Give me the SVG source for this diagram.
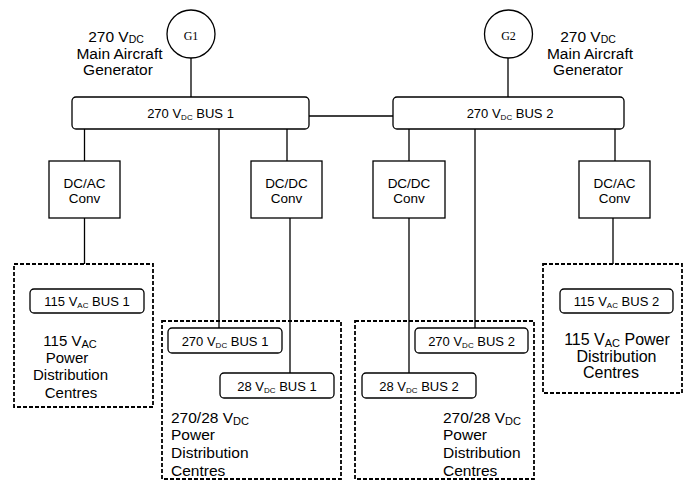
<svg xmlns="http://www.w3.org/2000/svg" width="689" height="480" viewBox="0 0 689 480">
<style>
.t{font-family:"Liberation Sans",Arial,sans-serif;fill:#000}
.g{font-family:"Liberation Serif","Times New Roman",serif;fill:#000;font-size:12px}
.l{stroke:#000;stroke-width:1.3;fill:none}
.box{fill:#fff;stroke:#000;stroke-width:1.3}
.dash{fill:none;stroke:#000;stroke-width:1.8;stroke-dasharray:4 2}
.b13{font-size:13px}
.c13{font-size:13.5px}
.big{font-size:15.5px}
</style>
<rect width="689" height="480" fill="#fff"/>
<g id="connectors">
<line class="l" x1="191" y1="58" x2="191" y2="97"/>
<line class="l" x1="508" y1="58" x2="508" y2="97"/>
<line class="l" x1="309" y1="116" x2="393" y2="116"/>
<line class="l" x1="84.5" y1="129" x2="84.5" y2="161"/>
<line class="l" x1="84.5" y1="218" x2="84.5" y2="264"/>
<line class="l" x1="219" y1="129" x2="219" y2="328"/>
<line class="l" x1="287" y1="129" x2="287" y2="161"/>
<line class="l" x1="290" y1="218" x2="290" y2="373"/>
<line class="l" x1="409" y1="129" x2="409" y2="161"/>
<line class="l" x1="409" y1="218" x2="409" y2="373"/>
<line class="l" x1="475" y1="129" x2="475" y2="328"/>
<line class="l" x1="615" y1="129" x2="615" y2="161"/>
<line class="l" x1="613" y1="218" x2="613" y2="264"/>
</g>
<g id="G1">
<circle class="box" cx="191" cy="34" r="24"/>
<text class="g" x="191" y="39.5" text-anchor="middle">G1</text>
</g>
<g id="G2">
<circle class="box" cx="508.5" cy="34" r="24"/>
<text class="g" x="508.5" y="39.5" text-anchor="middle">G2</text>
</g>
<g id="gen1-label">
<text class="t big" x="116" y="41.5" text-anchor="middle">270 V<tspan font-size="10.5px" dy="1.5">DC</tspan></text>
<text class="t big" x="119.5" y="58.5" text-anchor="middle">Main Aircraft</text>
<text class="t big" x="118" y="75" text-anchor="middle">Generator</text>
</g>
<g id="gen2-label">
<text class="t big" x="588" y="41.5" text-anchor="middle">270 V<tspan font-size="10.5px" dy="1.5">DC</tspan></text>
<text class="t big" x="590" y="58.5" text-anchor="middle">Main Aircraft</text>
<text class="t big" x="588" y="75" text-anchor="middle">Generator</text>
</g>
<g id="bus1">
<rect class="box" x="72" y="97" width="237" height="32" rx="4"/>
<text class="t b13" x="190.5" y="118" text-anchor="middle">270 V<tspan font-size="8px" dy="2">DC</tspan><tspan dy="-2"> BUS 1</tspan></text>
</g>
<g id="bus2">
<rect class="box" x="393" y="97" width="231" height="32" rx="4"/>
<text class="t b13" x="510" y="118" text-anchor="middle">270 V<tspan font-size="8px" dy="2">DC</tspan><tspan dy="-2">  BUS 2</tspan></text>
</g>
<g id="dcac1">
<rect class="box" x="49" y="161" width="71" height="57"/>
<text class="t c13" x="84.5" y="188" text-anchor="middle">DC/AC</text>
<text class="t c13" x="84.5" y="203" text-anchor="middle">Conv</text>
</g>
<g id="dcdc1">
<rect class="box" x="251" y="161" width="71" height="57"/>
<text class="t c13" x="286.5" y="188" text-anchor="middle">DC/DC</text>
<text class="t c13" x="286.5" y="203" text-anchor="middle">Conv</text>
</g>
<g id="dcdc2">
<rect class="box" x="373" y="161" width="72" height="57"/>
<text class="t c13" x="409" y="188" text-anchor="middle">DC/DC</text>
<text class="t c13" x="409" y="203" text-anchor="middle">Conv</text>
</g>
<g id="dcac2">
<rect class="box" x="579" y="161" width="71" height="57"/>
<text class="t c13" x="614.5" y="188" text-anchor="middle">DC/AC</text>
<text class="t c13" x="614.5" y="203" text-anchor="middle">Conv</text>
</g>
<g id="pdc-ac1">
<rect class="dash" x="14" y="264" width="139" height="143"/>
<rect class="box" x="30" y="289" width="114" height="24" rx="4"/>
<text class="t b13" x="87" y="306" text-anchor="middle">115 V<tspan font-size="8px" dy="2">AC</tspan><tspan dy="-2"> BUS 1</tspan></text>
<text class="t" font-size="15px" x="70" y="346" text-anchor="middle">115 V<tspan font-size="11px" dy="2">AC</tspan></text>
<text class="t" font-size="15px" x="67" y="363" text-anchor="middle">Power</text>
<text class="t" font-size="15px" x="70.5" y="380" text-anchor="middle">Distribution</text>
<text class="t" font-size="15px" x="71" y="398" text-anchor="middle">Centres</text>
</g>
<g id="pdc-dc1">
<rect class="dash" x="162" y="321" width="179" height="158"/>
<rect class="box" x="168" y="328" width="114" height="25" rx="4"/>
<text class="t b13" x="225" y="345.5" text-anchor="middle">270 V<tspan font-size="8px" dy="2">DC</tspan><tspan dy="-2"> BUS 1</tspan></text>
<rect class="box" x="220" y="373" width="114" height="25" rx="4"/>
<text class="t b13" x="277" y="390.5" text-anchor="middle">28 V<tspan font-size="8px" dy="2">DC</tspan><tspan dy="-2"> BUS 1</tspan></text>
<text class="t big" x="171" y="422.5">270/28 V<tspan font-size="11px" dy="2">DC</tspan></text>
<text class="t big" x="171" y="439.5">Power</text>
<text class="t big" x="171" y="458">Distribution</text>
<text class="t big" x="171" y="476">Centres</text>
</g>
<g id="pdc-dc2">
<rect class="dash" x="355" y="321" width="179" height="158"/>
<rect class="box" x="415" y="328" width="113" height="25" rx="4"/>
<text class="t b13" x="471.5" y="345.5" text-anchor="middle">270 V<tspan font-size="8px" dy="2">DC</tspan><tspan dy="-2"> BUS 2</tspan></text>
<rect class="box" x="362" y="373" width="114" height="25" rx="4"/>
<text class="t b13" x="419" y="390.5" text-anchor="middle">28 V<tspan font-size="8px" dy="2">DC</tspan><tspan dy="-2"> BUS 2</tspan></text>
<text class="t big" x="443" y="422.5">270/28 V<tspan font-size="11px" dy="2">DC</tspan></text>
<text class="t big" x="443" y="439.5">Power</text>
<text class="t big" x="443" y="458">Distribution</text>
<text class="t big" x="443" y="476">Centres</text>
</g>
<g id="pdc-ac2">
<rect class="dash" x="543" y="264" width="139" height="129"/>
<rect class="box" x="560" y="289" width="113" height="24" rx="4"/>
<text class="t b13" x="616.5" y="306" text-anchor="middle">115 V<tspan font-size="8px" dy="2">AC</tspan><tspan dy="-2"> BUS 2</tspan></text>
<text class="t" font-size="16px" x="617" y="345" text-anchor="middle">115 V<tspan font-size="11px" dy="2">AC</tspan><tspan dy="-2"> Power</tspan></text>
<text class="t" font-size="16px" x="616.5" y="362" text-anchor="middle">Distribution</text>
<text class="t" font-size="16px" x="611" y="378" text-anchor="middle">Centres</text>
</g>
</svg>
